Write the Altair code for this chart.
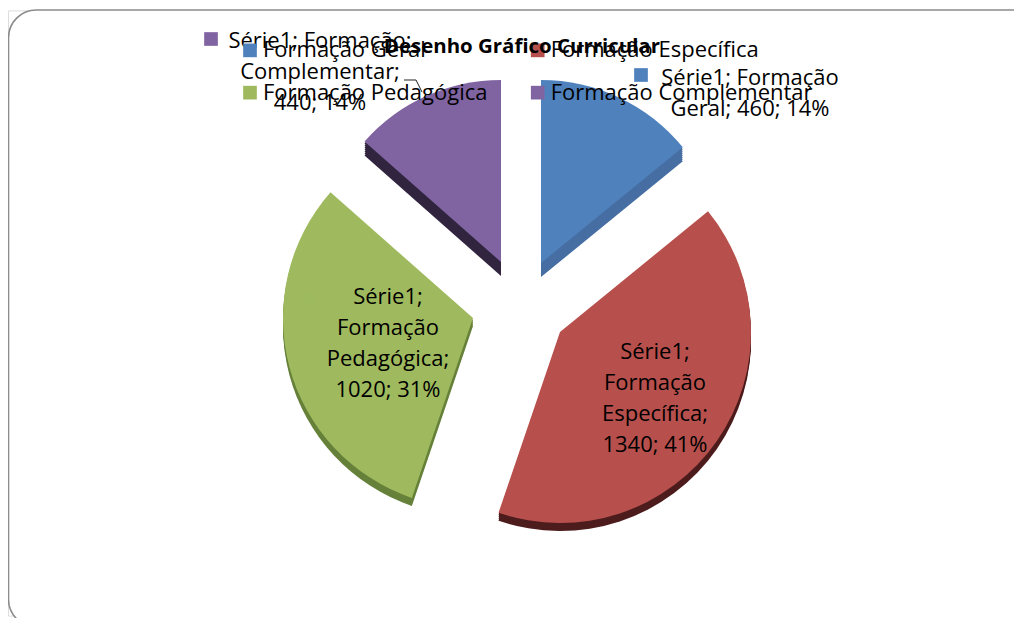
import altair as alt
import pandas as pd

categories = ["Formação Geral", "Formação Específica", "Formação Pedagógica", "Formação Complementar"]
values = [460, 1340, 1020, 440]
colors = ["#4f81bd", "#b7504d", "#9fba5e", "#8064a2"]
rim_colors = ["#466ea3", "#4d1c1c", "#66813a", "#30243f"]
legend_order = [0, 2, 1, 3]
label_texts = [
    "Série1; Formação\nGeral; 460; 14%",
    "Série1;\nFormação\nEspecífica;\n1340; 41%",
    "Série1;\nFormação\nPedagógica;\n1020; 31%",
    "Série1; Formação;\nComplementar;\n440; 14%",
]
title_text = "Desenho Gráfico Curricular"

total = sum(values)
starts = [sum(values[:i]) for i in range(len(values))]
ends = [s + v for s, v in zip(starts, values)]
df = pd.DataFrame({"cat": categories, "start": starts, "end": ends, "value": values})

W, H = 1014, 610
# the page shrinks the 1014 px wide picture to fit 1006 px; coordinates below are in page pixels
S = 1006 / 1014
YSHIFT = H * (1 - S) / 2
def PX(x):
    return (x - 8) / S
def PY(y):
    return (y - 8 - YSHIFT) / S

FONT = "Open Sans"
FS = 22 / S

# slice geometry in page pixels: apex x, apex y, radius, depth
geom = [(541, 263, 183, 14), (560, 332, 191, 8), (473, 318, 190, 8), (501, 262, 182, 14)]
# label anchor: centre x, first-line y, marker x, marker y
label_pos = [(750, 78, 641, 75), (655, 352, 583, 353), (388, 297, 310, 298), (320, 41, 211, 39)]

theta_scale = alt.Scale(domain=[0, total], range=[0, 6.283185307])
color_scale = alt.Scale(domain=[categories[i] for i in legend_order],
                        range=[colors[i] for i in legend_order])
base = alt.Chart(df)

layers = []
frame = alt.Chart(pd.DataFrame({"a": [0]})).mark_rect(
    fill="white", stroke="#8c8c8c", strokeWidth=1.6, cornerRadius=28
).encode(x=alt.value(PX(8.5)), x2=alt.value(PX(1040)), y=alt.value(PY(10)), y2=alt.value(PY(627)))
layers.append(frame)

legend = alt.Legend(
    title=None, orient="none", legendX=PX(239), legendY=PY(39), columns=2, symbolType="square",
    symbolSize=190, symbolStrokeWidth=0, labelFont=FONT, labelFontSize=FS, labelColor="#000000",
    rowPadding=20, columnPadding=39, labelOffset=2, labelLimit=400, symbolOpacity=1,
)

for i, cat in enumerate(categories):
    ax, ay, r, d = geom[i]
    sub = base.transform_filter(alt.datum.cat == cat)
    for off in range(d, 0, -2):
        layers.append(
            sub.mark_arc(radius=r / S, color=rim_colors[i]).encode(
                theta=alt.Theta("start:Q", scale=theta_scale),
                theta2="end:Q",
                x=alt.value(PX(ax)),
                y=alt.value(PY(ay + off)),
            )
        )

for i, cat in enumerate(categories):
    ax, ay, r, d = geom[i]
    sub = base.transform_filter(alt.datum.cat == cat)
    layers.append(
        sub.mark_arc(radius=r / S).encode(
            theta=alt.Theta("start:Q", scale=theta_scale),
            theta2="end:Q",
            color=alt.Color("cat:N", scale=color_scale, legend=legend),
            x=alt.value(PX(ax)),
            y=alt.value(PY(ay)),
        )
    )

for i, cat in enumerate(categories):
    cx, ly, mx, my = label_pos[i]
    sub = base.transform_filter(alt.datum.cat == cat)
    layers.append(
        sub.mark_square(size=190, opacity=1 if i in (0, 3) else 0.35, color=colors[i]).encode(
            x=alt.value(PX(mx)), y=alt.value(PY(my))
        )
    )
    layers.append(
        alt.Chart(pd.DataFrame({"t": [label_texts[i]]}))
        .mark_text(font=FONT, fontSize=FS, color="black", align="center", baseline="middle",
                   lineBreak="\n", lineHeight=31 / S)
        .encode(text="t:N", x=alt.value(PX(cx)), y=alt.value(PY(ly)))
    )

leader = alt.Chart(pd.DataFrame({"a": [0]}))
layers.append(leader.mark_rule(color="#222222", strokeWidth=1).encode(
    x=alt.value(PX(404)), x2=alt.value(PX(416)), y=alt.value(PY(80)), y2=alt.value(PY(80))))
layers.append(leader.mark_rule(color="#222222", strokeWidth=1).encode(
    x=alt.value(PX(416)), x2=alt.value(PX(422)), y=alt.value(PY(80)), y2=alt.value(PY(92))))

chart = (
    alt.layer(*layers)
    .resolve_scale(theta="shared")
    .properties(
        width=W, height=H, padding=0,
        autosize=alt.AutoSizeParams(type="none"),
        title=alt.TitleParams(title_text, font=FONT, fontSize=20.6, fontWeight="bold", color="black",
                              anchor="middle", dx=11, dy=49, offset=0),
    )
    .configure_view(stroke=None)
    .configure(background="white")
)
chart.save("out.html", embed_options={"renderer": "svg", "actions": False})
